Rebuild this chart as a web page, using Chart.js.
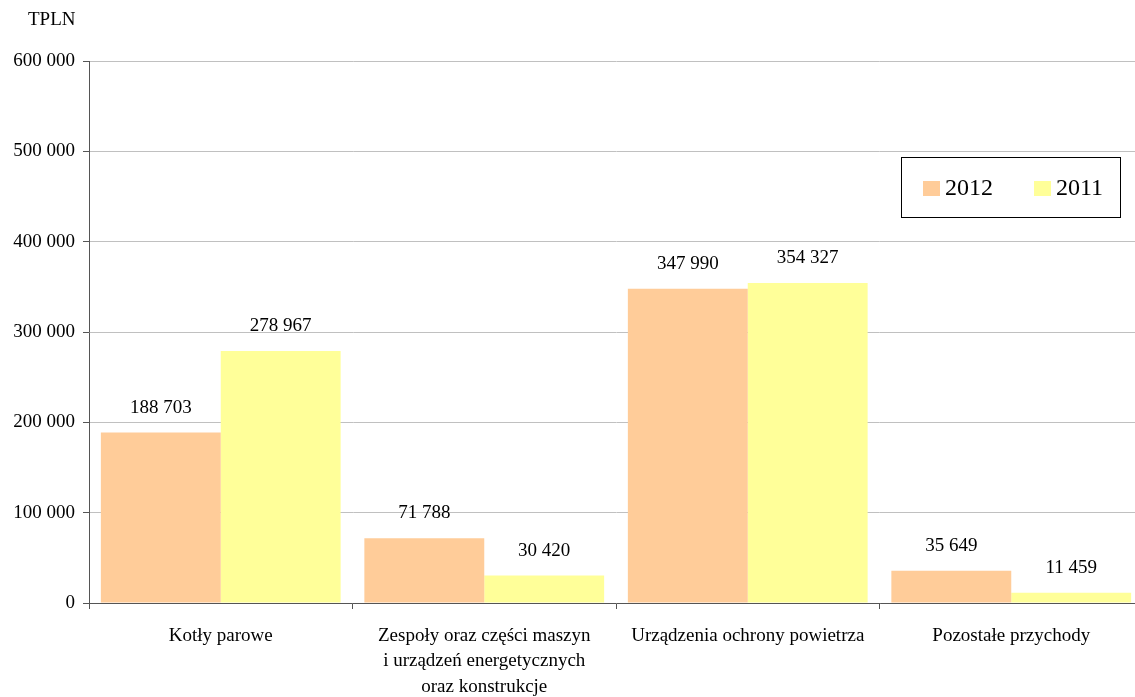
<!DOCTYPE html>
<html>
<head>
<meta charset="utf-8">
<script src="https://cdn.jsdelivr.net/npm/chart.js@4/dist/chart.umd.min.js"></script>
<style>
  html, body { margin: 0; padding: 0; background: #fff; overflow: hidden; }
  #wrap { position: relative; width: 1150px; height: 697px; }
</style>
</head>
<body>
<div id="wrap"><canvas id="chart" width="1150" height="697"></canvas></div>
<script>
const categories = [
    'Kotły parowe',
    ['Zespoły oraz części maszyn', 'i urządzeń energetycznych', 'oraz konstrukcje'],
    'Urządzenia ochrony powietrza',
    'Pozostałe przychody'
];
const seriesNames = ['2012', '2011'];
const values2012 = [188703, 71788, 347990, 35649];
const values2011 = [278967, 30420, 354327, 11459];
const yTicks = [0, 100000, 200000, 300000, 400000, 500000, 600000];
const unitLabel = 'TPLN';

const FONT = "'Liberation Serif', 'DejaVu Serif', serif";
const colors = ['#FFCC99', '#FFFF99'];

const fmt = (n) => String(n).replace(/\B(?=(\d{3})+(?!\d))/g, ' ');

// value labels above bars
const valueLabels = {
    id: 'valueLabels',
    afterDatasetsDraw(chart) {
        const ctx = chart.ctx;
        ctx.save();
        ctx.font = '19px ' + FONT;
        ctx.fillStyle = '#000';
        ctx.textAlign = 'center';
        ctx.textBaseline = 'middle';
        chart.data.datasets.forEach((ds, i) => {
            chart.getDatasetMeta(i).data.forEach((bar, j) => {
                ctx.fillText(fmt(ds.data[j]), bar.x, bar.y - 25);
            });
        });
        ctx.restore();
    }
};

// boxed legend + unit label
const boxLegend = {
    id: 'boxLegend',
    afterDraw(chart) {
        const ctx = chart.ctx;
        ctx.save();
        ctx.font = '19px ' + FONT;
        ctx.fillStyle = '#000';
        ctx.textBaseline = 'middle';
        ctx.textAlign = 'left';
        ctx.fillText(unitLabel, 28, 20);

        ctx.strokeStyle = '#000';
        ctx.lineWidth = 1;
        ctx.strokeRect(901.5, 157.5, 219, 60);
        ctx.font = '24px ' + FONT;
        const xs = [923, 1034];
        chart.data.datasets.forEach((ds, i) => {
            ctx.fillStyle = ds.backgroundColor;
            ctx.fillRect(xs[i], 181, 17, 15);
            ctx.fillStyle = '#000';
            ctx.fillText(ds.label, xs[i] + 22, 189);
        });
        ctx.restore();
    }
};

new Chart(document.getElementById('chart'), {
    type: 'bar',
    data: {
        labels: categories,
        datasets: [
            { label: seriesNames[0], data: values2012, backgroundColor: colors[0] },
            { label: seriesNames[1], data: values2011, backgroundColor: colors[1] }
        ]
    },
    options: {
        responsive: false,
        animation: false,
        devicePixelRatio: 1,
        layout: { padding: { top: 61, right: 7, left: 0, bottom: 0 } },
        datasets: { bar: { categoryPercentage: 0.91, barPercentage: 1.0, borderWidth: 0 } },
        plugins: {
            legend: { display: false },
            tooltip: { enabled: false }
        },
        scales: {
            x: {
                grid: { drawOnChartArea: false, drawTicks: true, tickLength: 6, tickColor: '#555' },
                border: { color: '#555', width: 1 },
                ticks: {
                    color: '#000',
                    font: { family: FONT, size: 19, lineHeight: 1.35 },
                    padding: 14,
                    maxRotation: 0,
                    autoSkip: false
                },
                afterFit(scale) { scale.height = 94; }
            },
            y: {
                min: 0,
                max: 600000,
                afterBuildTicks(scale) { scale.ticks = yTicks.map(v => ({ value: v })); },
                grid: { color: '#c0c0c0', tickColor: '#555', tickLength: 6, drawTicks: true },
                border: { color: '#555', width: 1 },
                ticks: {
                    color: '#000',
                    font: { family: FONT, size: 19 },
                    padding: 8,
                    callback: (v) => fmt(v)
                },
                afterFit(scale) { scale.width = 89; }
            }
        }
    },
    plugins: [valueLabels, boxLegend]
});
</script>
</body>
</html>
